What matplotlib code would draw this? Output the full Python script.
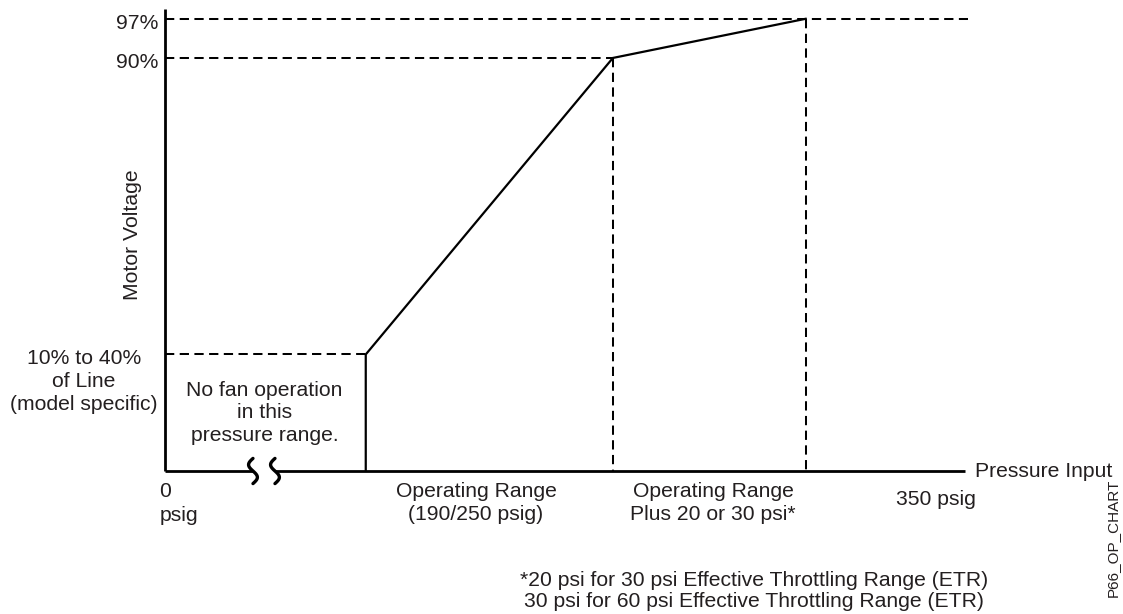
import matplotlib
matplotlib.use("Agg")
import matplotlib.pyplot as plt
import numpy as np

plt.rcParams['font.family'] = ['Liberation Sans', 'DejaVu Sans']

# Schematic curve (abstract units): pressure position vs motor voltage level
curve_x = [25.1, 25.1, 56.0, 80.1]
curve_y = [0.0, 25.0, 88.6, 97.0]
low_level, mid_level, top_level = 25.0, 88.6, 97.0
x_start, x_mid, x_top = 25.1, 56.0, 80.1
axis_x_end = 100.0
axis_y_end = 99.1
break_x = [11.0, 13.75]
dash_end = 100.4

W, H = 1123, 614
fig = plt.figure(figsize=(W / 100, H / 100), dpi=100)
L, R, B, T = 165, 968, 471, 9
ax = fig.add_axes([L / W, 1 - B / H, (R - L) / W, (B - T) / H])
ax.set_xlim(0, 100.4)
ax.set_ylim(0, 99.1)
ax.axis('off')

lw = 1.45
dash = (4.6, 2.7)
axis_lw = 2.0
# axes lines (x axis interrupted by break marks)
ax.plot([0, 0], [0, axis_y_end], color='black', lw=axis_lw, solid_capstyle='butt', clip_on=False)
ax.plot([0, break_x[0]], [0, 0], color='black', lw=axis_lw, solid_capstyle='butt', clip_on=False)
ax.plot([break_x[1], axis_x_end], [0, 0], color='black', lw=axis_lw, solid_capstyle='butt', clip_on=False)
t = np.linspace(-1, 1, 60)
for b in break_x:
    ax.plot(b - 0.55 * np.sin(t * np.pi), t * 2.7, color='black', lw=2.4, zorder=4,
            solid_capstyle='round', clip_on=False)

# curve
ax.plot(curve_x, curve_y, color='black', lw=1.6, solid_joinstyle='miter', zorder=5)

# dashed guides
ax.plot([0, x_start], [low_level, low_level], color='black', lw=lw, dashes=dash)
ax.plot([0, x_mid], [mid_level, mid_level], color='black', lw=lw, dashes=dash)
ax.plot([0, dash_end], [top_level, top_level], color='black', lw=lw, dashes=dash, clip_on=False)
ax.plot([x_mid, x_mid], [mid_level, 0], color='black', lw=lw, dashes=dash)
ax.plot([x_top, x_top], [top_level, 0], color='black', lw=lw, dashes=dash)

fs = 15.2
ls = 1.25
def ftext(px, py, s, **kw):
    kw.setdefault('fontsize', fs)
    kw.setdefault('color', '#231f20')
    fig.text(px / W, 1 - py / H, s, **kw)

# py for multi-line texts is the baseline of the last line
ftext(158, 29, "97%", ha='right', va='baseline')
ftext(158, 68, "90%", ha='right', va='baseline')
ftext(84, 410, "10% to 40%\nof Line\n(model specific)", ha='center', va='baseline', linespacing=ls)
ftext(132, 235, "Motor Voltage", ha='center', va='center', rotation=90)
ftext(264.5, 441, "No fan operation\nin this\npressure range.", ha='center', va='baseline', linespacing=ls)
ftext(165, 497, "0", ha='center', va='baseline')
ftext(179, 521, "psig", ha='center', va='baseline')
ftext(476, 520, "Operating Range\n(190/250 psig)", ha='center', va='baseline', linespacing=ls)
ftext(713, 520, "Operating Range\nPlus 20 or 30 psi*", ha='center', va='baseline', linespacing=ls)
ftext(936, 505, "350 psig", ha='center', va='baseline')
ftext(975, 477, "Pressure Input", ha='left', va='baseline')
ftext(1113, 538, "P66_OP_CHART", ha='center', va='center', rotation=90, fontsize=11)
ftext(754, 607, "*20 psi for 30 psi Effective Throttling Range (ETR)\n30 psi for 60 psi Effective Throttling Range (ETR)",
      ha='center', va='baseline', linespacing=1.12)

fig.savefig("out.png", dpi=100)
